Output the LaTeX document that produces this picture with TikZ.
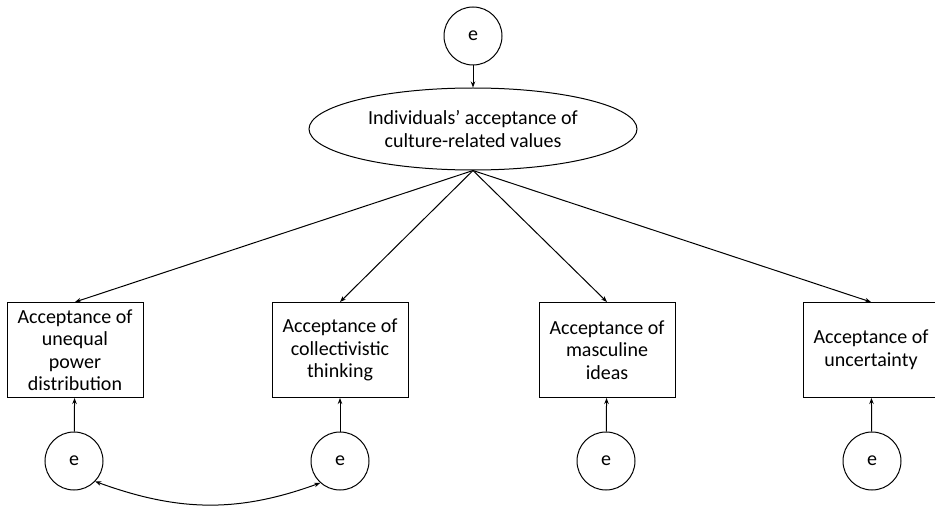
\documentclass[tikz,border=0pt]{standalone}
\usepackage{fontspec}
\setmainfont{Carlito}
\usepackage{tikz}
\usetikzlibrary{shapes.geometric,arrows.meta}

\begin{document}
\begin{tikzpicture}[
    x=1pt, y=1pt,
    line width=1pt,
    font=\fontsize{20}{22.5}\selectfont,
    err/.style={circle, draw, minimum size=58pt, inner sep=0pt},
    factor/.style={ellipse, draw, minimum width=328pt, minimum height=82pt, align=center, inner sep=0pt},
    indicator/.style={rectangle, draw, minimum width=136pt, minimum height=95pt, align=center, inner sep=2pt},
    arr/.style={-{Stealth[length=6pt,width=4.5pt]}}
]
\useasboundingbox (0,0) rectangle (935,507);
\node [err] (etop) at (473,471) {e};
\node [factor] (values) at (473,378) {Individuals’ acceptance of\\culture-related values};
\node [indicator] (power) at (75,157) {Acceptance of\\unequal\\power\\distribution};
\node [indicator] (collect) at (340,157) {Acceptance of\\collectivistic\\thinking};
\node [indicator] (masc) at (607,157) {Acceptance of\\masculine\\ideas};
\node [indicator] (uncert) at (871,157) {Acceptance of\\uncertainty};
\node [err] (e1) at (74,46) {e};
\node [err] (e2) at (340,46) {e};
\node [err] (e3) at (606,46) {e};
\node [err] (e4) at (872,46) {e};
\draw [arr] (etop) -- (values);
\draw [arr] (values.south) -- (power.north);
\draw [arr] (values.south) -- (collect.north);
\draw [arr] (values.south) -- (masc.north);
\draw [arr] (values.south) -- (uncert.north);
\draw [arr] (e1) -- (power);
\draw [arr] (e2) -- (collect);
\draw [arr] (e3) -- (masc);
\draw [arr] (e4) -- (uncert);
\draw [{Stealth[length=6pt,width=4.5pt]}-{Stealth[length=6pt,width=4.5pt]}] (e1.-44) to[out=-20, in=-160] (e2.-132);
\end{tikzpicture}
\end{document}
